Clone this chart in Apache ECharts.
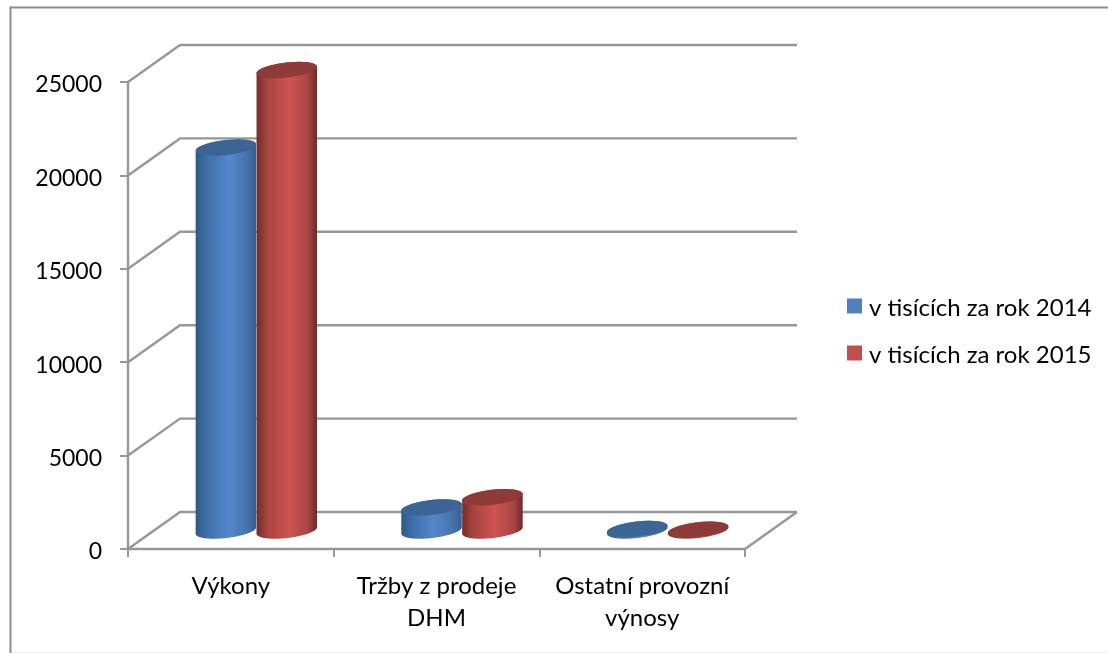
<!DOCTYPE html>
<html>
<head>
<meta charset="utf-8">
<style>html,body{margin:0;padding:0;background:#fff}#c{width:1108px;height:653px}</style>
<script src="https://cdn.jsdelivr.net/npm/echarts@6/dist/echarts.min.js"></script>
</head>
<body>
<div id="c"></div>
<script>
const categories = ['Výkony', 'Tržby z prodeje\nDHM', 'Ostatní provozní\nvýnosy'];
const seriesNames = ['v tisících za rok 2014', 'v tisících za rok 2015'];
const values2014 = [20500, 1230, 80];
const values2015 = [24650, 1780, 40];
const axisTicks = [0, 5000, 10000, 15000, 20000, 25000];

const FONT = 'Lato';
const FS = 24;
const GREY = '#979797';
const DX = 52, DY = -37;
const TILT = 6.5 * Math.PI / 180;

function ellipsePts(cx, cy, a, b, from, to) {
  const pts = [], n = 40;
  for (let i = 0; i <= n; i++) {
    const t = from + (to - from) * i / n;
    pts.push([
      cx + a * Math.cos(t) * Math.cos(TILT) + b * Math.sin(t) * Math.sin(TILT),
      cy - a * Math.cos(t) * Math.sin(TILT) + b * Math.sin(t) * Math.cos(TILT)
    ]);
  }
  return pts;
}

function cylinderRender(idx, stops, capColor) {
  return function (params, api) {
    const cat = api.value(0), v = api.value(1);
    const band = api.size([1, 0])[0];
    const w = band * 0.296;
    const base = api.coord([cat, 0]);
    const top = api.coord([cat, v]);
    const cx = base[0] + DX / 2 - 0.5 + (idx === 0 ? -w / 2 : w / 2);
    const yB = base[1] + DY / 2, yT = top[1] + DY / 2;
    const a = w / 2, b = 7.5;
    const body = ellipsePts(cx, yB, a, b, 0, Math.PI)
      .concat(ellipsePts(cx, yT, a, b, Math.PI, 2 * Math.PI));
    const fill = new echarts.graphic.LinearGradient(0, 0, 1, 0, stops);
    return {
      type: 'group',
      children: [
        { type: 'polygon', shape: { points: body }, style: { fill: fill } },
        { type: 'polygon', shape: { points: ellipsePts(cx, yT, a, b, 0, 2 * Math.PI) }, style: { fill: capColor } }
      ]
    };
  };
}

function wallRender(params, api) {
  const v = api.value(1);
  const cs = params.coordSys;
  const y = api.coord([0, v])[1];
  const x0 = cs.x, x1 = cs.x + cs.width;
  const pts = [[x0, y], [x0 + DX, y + DY], [x1 + DX, y + DY]];
  const children = [{
    type: 'polyline', shape: { points: pts },
    style: { stroke: GREY, lineWidth: 2.4, fill: 'none' }
  }];
  if (v === 0) {
    children.push({
      type: 'polyline', shape: { points: [[x1, y], [x1 + DX, y + DY]] },
      style: { stroke: GREY, lineWidth: 2.4, fill: 'none' }
    });
  }
  return { type: 'group', children: children };
}

const blueStops = [
  { offset: 0, color: '#2d5788' }, { offset: 0.18, color: '#3f6fa8' },
  { offset: 0.55, color: '#5488cb' }, { offset: 0.85, color: '#4673ab' },
  { offset: 1, color: '#365f90' }
];
const redStops = [
  { offset: 0, color: '#742c2a' }, { offset: 0.18, color: '#a84341' },
  { offset: 0.55, color: '#cd5452' }, { offset: 0.85, color: '#a94543' },
  { offset: 1, color: '#6c2a28' }
];

const chart = echarts.init(document.getElementById('c'), null, { renderer: 'canvas' });
chart.setOption({
  animation: false,
  backgroundColor: '#fff',
  textStyle: { fontFamily: FONT },
  graphic: [
    { type: 'line', z: -10, shape: { x1: 10, y1: 7.5, x2: 1108, y2: 7.5 }, style: { stroke: '#8c8c8c', lineWidth: 2 } },
    { type: 'line', z: -10, shape: { x1: 10.5, y1: 6.5, x2: 10.5, y2: 653 }, style: { stroke: '#8c8c8c', lineWidth: 2 } },
    { type: 'line', z: -10, shape: { x1: 12, y1: 652.5, x2: 1108, y2: 652.5 }, style: { stroke: '#eeeeee', lineWidth: 1 } }
  ],
  grid: { left: 128, top: 82, width: 617, height: 467, containLabel: false },
  legend: {
    left: 847, top: 292, orient: 'vertical', icon: 'rect', padding: 0,
    itemWidth: 15, itemHeight: 15, itemGap: 19,
    data: seriesNames,
    selectedMode: false,
    formatter: function (n) { return '{t|' + n + '}'; },
    textStyle: {
      fontFamily: FONT, fontSize: FS, color: '#000',
      rich: { t: { fontFamily: FONT, fontSize: FS, color: '#000', padding: [4, 0, 0, 2], lineHeight: 25 } }
    }
  },
  xAxis: {
    type: 'category', data: categories,
    axisLine: { lineStyle: { color: GREY, width: 2.4 } },
    axisTick: { show: true, alignWithLabel: false, length: 8, lineStyle: { color: GREY, width: 2 } },
    axisLabel: { fontFamily: FONT, fontSize: FS, color: '#000', margin: 21, lineHeight: 32, interval: 0 }
  },
  yAxis: {
    type: 'value', min: 0, max: 25000, interval: 5000,
    axisLine: { show: true, lineStyle: { color: GREY, width: 2.4 } },
    axisTick: { show: true, length: 8, lineStyle: { color: GREY, width: 2 } },
    axisLabel: {
      margin: 26,
      formatter: function (v) { return '{n|' + v + '}'; },
      rich: { n: { fontFamily: FONT, fontSize: 23, color: '#000', padding: [6, 0, 0, 0] } }
    },
    splitLine: { show: false }
  },
  series: [
    {
      type: 'custom', name: 'walls', z: 1, silent: true,
      data: axisTicks.map(t => [0, t]),
      encode: { x: 0, y: 1 },
      renderItem: wallRender
    },
    {
      type: 'custom', name: seriesNames[0], z: 2,
      itemStyle: { color: '#4f81bd' },
      data: values2014.map((v, i) => [i, v]),
      encode: { x: 0, y: 1 },
      renderItem: cylinderRender(0, blueStops, '#3c6595')
    },
    {
      type: 'custom', name: seriesNames[1], z: 3,
      itemStyle: { color: '#c0504d' },
      data: values2015.map((v, i) => [i, v]),
      encode: { x: 0, y: 1 },
      renderItem: cylinderRender(1, redStops, '#8e3a38')
    }
  ]
});
</script>
</body>
</html>
